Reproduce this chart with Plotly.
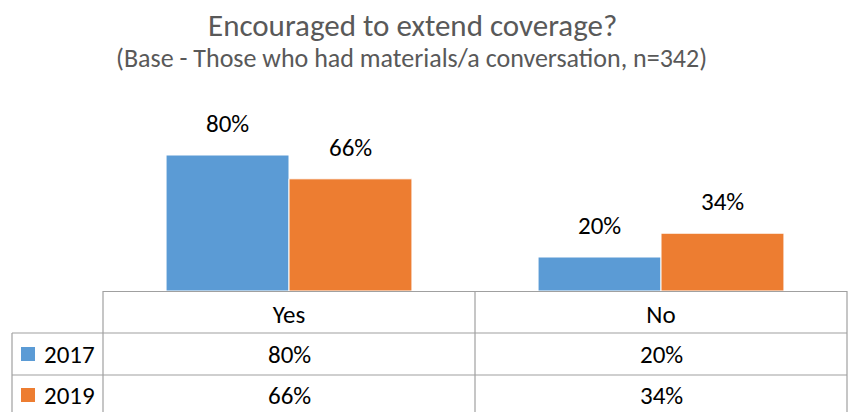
import plotly.graph_objects as go

categories = ["Yes", "No"]
years = ["2017", "2019"]
values_2017 = [80, 20]
values_2019 = [66, 34]
series = [values_2017, values_2019]
colors = ["#5B9BD5", "#ED7D31"]

title_text = "Encouraged to extend coverage?"
subtitle_text = "(Base - Those who had materials/a conversation, n=342)"

FONT = "Carlito, Lato, sans-serif"
W, H = 851, 412
ML, MR, MT, MB = 103, 4, 121, 121
BARGAP = 0.339
LINE = "#A0A0A0"

plot_h = H - MT - MB
plot_w = W - ML - MR
def py(px):
    # pixel y (from top) -> paper y
    return (H - MB - px) / plot_h

def pxx(px):
    # pixel x (from left) -> paper x
    return (px - ML) / plot_w

fig = go.Figure()
for name, vals, col in zip(years, series, colors):
    fig.add_trace(go.Bar(
        x=categories, y=vals, name=name,
        marker=dict(color=col, line=dict(color="white", width=1)),
        showlegend=False, hoverinfo="x+y+name",
    ))

annotations = []
shapes = []
bw = (1 - BARGAP) / len(series)
for si, vals in enumerate(series):
    off = -(1 - BARGAP) / 2 + bw * (si + 0.5)
    for ci, v in enumerate(vals):
        annotations.append(dict(
            x=ci + off, y=v, xref="x", yref="y", text=f"{v}%",
            showarrow=False, yanchor="bottom", xanchor="center", yshift=14,
            font=dict(family=FONT, size=25, color="#000000"),
        ))

# table rows
row_centers = [354, 395]
for si, (name, vals, col) in enumerate(zip(years, series, colors)):
    yc = py(row_centers[si])
    for ci, v in enumerate(vals):
        annotations.append(dict(
            x=ci, y=yc, xref="x", yref="paper", text=f"{v}%",
            xanchor="center", yanchor="middle",
            showarrow=False, font=dict(family=FONT, size=25, color="#000000"),
        ))
    annotations.append(dict(
        x=pxx(42), y=yc, xref="paper", yref="paper", text=name,
        xanchor="left", yanchor="middle",
        showarrow=False, font=dict(family=FONT, size=25, color="#000000"),
    ))
    shapes.append(dict(type="rect", xref="paper", yref="paper",
                       x0=pxx(21), x1=pxx(35),
                       y0=py(row_centers[si] - 7), y1=py(row_centers[si] + 7),
                       fillcolor=col, line=dict(width=0)))

# table grid lines
row_lines = [333, 375, 416]
for ry in row_lines:
    shapes.append(dict(type="line", xref="paper", yref="paper",
                       x0=pxx(12), x1=1,
                       y0=py(ry), y1=py(ry), line=dict(color=LINE, width=1.2)))
for ci in range(len(categories) + 1):
    shapes.append(dict(type="line", xref="paper", yref="paper",
                       x0=ci / len(categories), x1=ci / len(categories), y0=0, y1=py(416),
                       line=dict(color=LINE, width=1.2)))
shapes.append(dict(type="line", xref="paper", yref="paper",
                   x0=pxx(12), x1=pxx(12), y0=py(333), y1=py(416),
                   line=dict(color=LINE, width=1.2)))

annotations.append(dict(x=pxx(412), y=py(25), xref="paper", yref="paper", text=title_text,
                        xanchor="center", yanchor="middle",
                        showarrow=False, font=dict(family=FONT, size=31, color="#595959")))
annotations.append(dict(x=pxx(411), y=py(58), xref="paper", yref="paper", text=subtitle_text,
                        xanchor="center", yanchor="middle",
                        showarrow=False, font=dict(family=FONT, size=26, color="#595959")))

fig.update_layout(
    width=W, height=H,
    margin=dict(l=ML, r=MR, t=MT, b=MB),
    paper_bgcolor="white", plot_bgcolor="white",
    barmode="group", bargap=BARGAP, bargroupgap=0,
    annotations=annotations, shapes=shapes,
    xaxis=dict(showline=True, linecolor=LINE, linewidth=1.2, ticks="", showgrid=False,
               tickfont=dict(family=FONT, size=25, color="#000000"),
               ticklabelstandoff=1, range=[-0.5, 1.5]),
    yaxis=dict(range=[0, 100], visible=False, showgrid=False),
    font=dict(family=FONT),
)

fig.write_html("out.html")
